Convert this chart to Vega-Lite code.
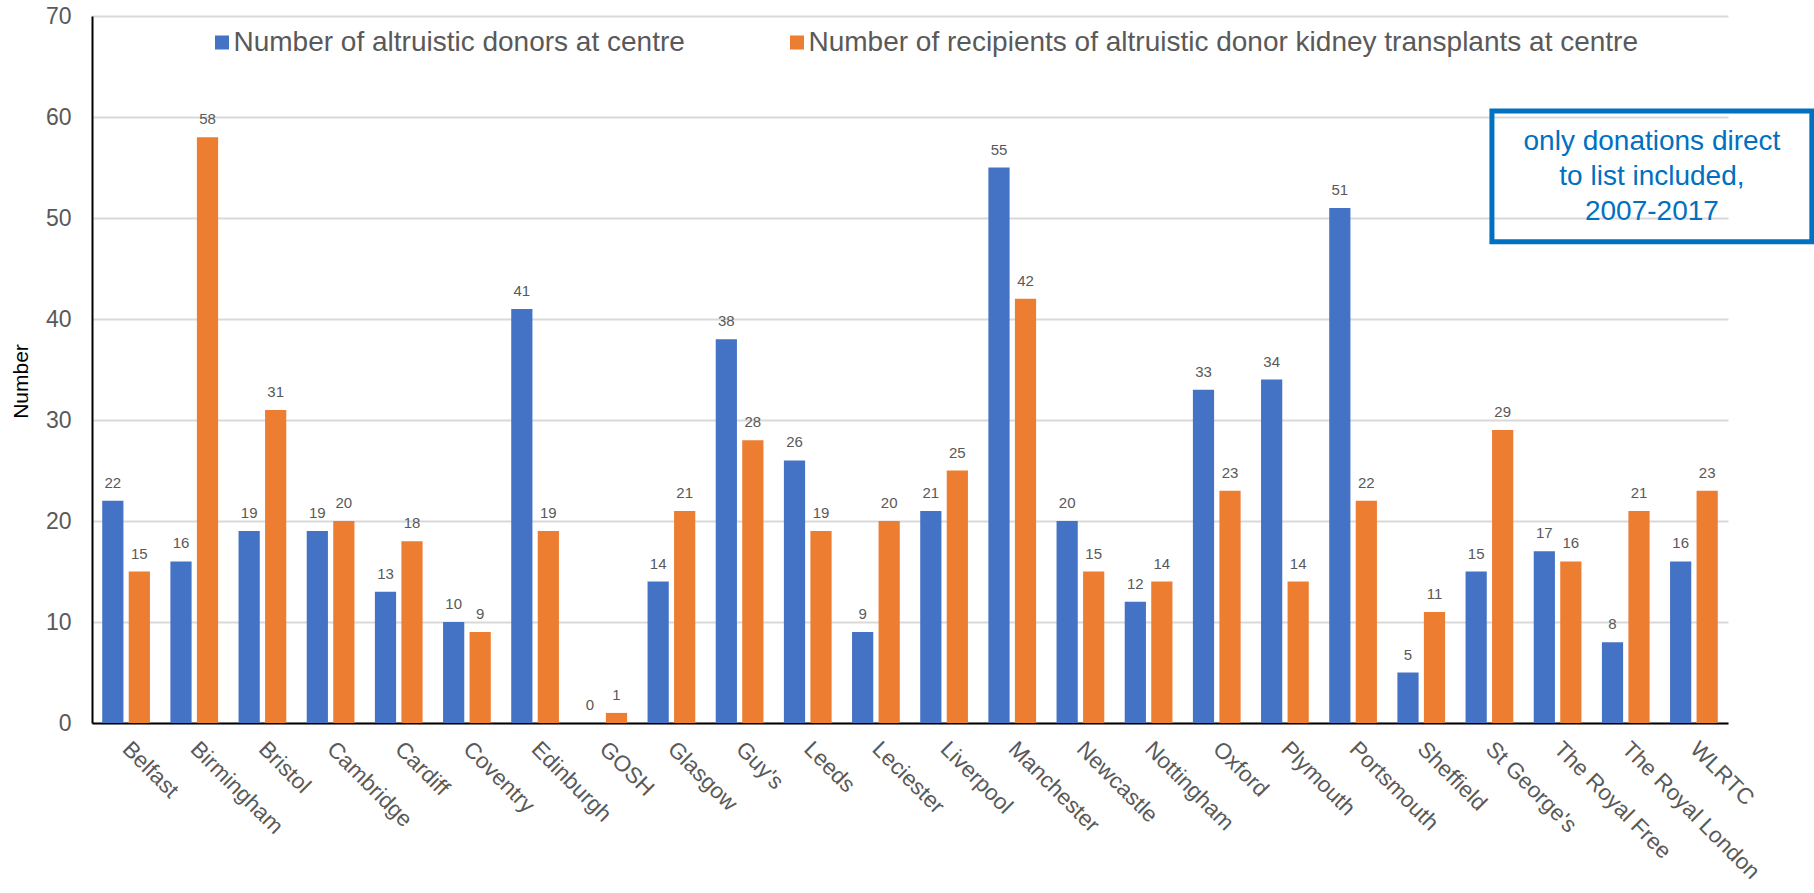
{
  "$schema": "https://vega.github.io/schema/vega-lite/v6.json",
  "width": 1636,
  "height": 707,
  "autosize": {"type": "none"},
  "padding": {"left": 92, "top": 16, "right": 86, "bottom": 170},
  "background": "white",
  "config": {"font": "Liberation Sans", "view": {"stroke": null}},
  "resolve": {"scale": {"x": "independent", "y": "independent"}},
  "layer": [
    {
      "data": {"values": [
        {"centre": "Belfast", "series": "Number of altruistic donors at centre", "value": 22},
        {"centre": "Belfast", "series": "Number of recipients of altruistic donor kidney transplants at centre", "value": 15},
        {"centre": "Birmingham", "series": "Number of altruistic donors at centre", "value": 16},
        {"centre": "Birmingham", "series": "Number of recipients of altruistic donor kidney transplants at centre", "value": 58},
        {"centre": "Bristol", "series": "Number of altruistic donors at centre", "value": 19},
        {"centre": "Bristol", "series": "Number of recipients of altruistic donor kidney transplants at centre", "value": 31},
        {"centre": "Cambridge", "series": "Number of altruistic donors at centre", "value": 19},
        {"centre": "Cambridge", "series": "Number of recipients of altruistic donor kidney transplants at centre", "value": 20},
        {"centre": "Cardiff", "series": "Number of altruistic donors at centre", "value": 13},
        {"centre": "Cardiff", "series": "Number of recipients of altruistic donor kidney transplants at centre", "value": 18},
        {"centre": "Coventry", "series": "Number of altruistic donors at centre", "value": 10},
        {"centre": "Coventry", "series": "Number of recipients of altruistic donor kidney transplants at centre", "value": 9},
        {"centre": "Edinburgh", "series": "Number of altruistic donors at centre", "value": 41},
        {"centre": "Edinburgh", "series": "Number of recipients of altruistic donor kidney transplants at centre", "value": 19},
        {"centre": "GOSH", "series": "Number of altruistic donors at centre", "value": 0},
        {"centre": "GOSH", "series": "Number of recipients of altruistic donor kidney transplants at centre", "value": 1},
        {"centre": "Glasgow", "series": "Number of altruistic donors at centre", "value": 14},
        {"centre": "Glasgow", "series": "Number of recipients of altruistic donor kidney transplants at centre", "value": 21},
        {"centre": "Guy's", "series": "Number of altruistic donors at centre", "value": 38},
        {"centre": "Guy's", "series": "Number of recipients of altruistic donor kidney transplants at centre", "value": 28},
        {"centre": "Leeds", "series": "Number of altruistic donors at centre", "value": 26},
        {"centre": "Leeds", "series": "Number of recipients of altruistic donor kidney transplants at centre", "value": 19},
        {"centre": "Leciester", "series": "Number of altruistic donors at centre", "value": 9},
        {"centre": "Leciester", "series": "Number of recipients of altruistic donor kidney transplants at centre", "value": 20},
        {"centre": "Liverpool", "series": "Number of altruistic donors at centre", "value": 21},
        {"centre": "Liverpool", "series": "Number of recipients of altruistic donor kidney transplants at centre", "value": 25},
        {"centre": "Manchester", "series": "Number of altruistic donors at centre", "value": 55},
        {"centre": "Manchester", "series": "Number of recipients of altruistic donor kidney transplants at centre", "value": 42},
        {"centre": "Newcastle", "series": "Number of altruistic donors at centre", "value": 20},
        {"centre": "Newcastle", "series": "Number of recipients of altruistic donor kidney transplants at centre", "value": 15},
        {"centre": "Nottingham", "series": "Number of altruistic donors at centre", "value": 12},
        {"centre": "Nottingham", "series": "Number of recipients of altruistic donor kidney transplants at centre", "value": 14},
        {"centre": "Oxford", "series": "Number of altruistic donors at centre", "value": 33},
        {"centre": "Oxford", "series": "Number of recipients of altruistic donor kidney transplants at centre", "value": 23},
        {"centre": "Plymouth", "series": "Number of altruistic donors at centre", "value": 34},
        {"centre": "Plymouth", "series": "Number of recipients of altruistic donor kidney transplants at centre", "value": 14},
        {"centre": "Portsmouth", "series": "Number of altruistic donors at centre", "value": 51},
        {"centre": "Portsmouth", "series": "Number of recipients of altruistic donor kidney transplants at centre", "value": 22},
        {"centre": "Sheffield", "series": "Number of altruistic donors at centre", "value": 5},
        {"centre": "Sheffield", "series": "Number of recipients of altruistic donor kidney transplants at centre", "value": 11},
        {"centre": "St George's", "series": "Number of altruistic donors at centre", "value": 15},
        {"centre": "St George's", "series": "Number of recipients of altruistic donor kidney transplants at centre", "value": 29},
        {"centre": "The Royal Free", "series": "Number of altruistic donors at centre", "value": 17},
        {"centre": "The Royal Free", "series": "Number of recipients of altruistic donor kidney transplants at centre", "value": 16},
        {"centre": "The Royal London", "series": "Number of altruistic donors at centre", "value": 8},
        {"centre": "The Royal London", "series": "Number of recipients of altruistic donor kidney transplants at centre", "value": 21},
        {"centre": "WLRTC", "series": "Number of altruistic donors at centre", "value": 16},
        {"centre": "WLRTC", "series": "Number of recipients of altruistic donor kidney transplants at centre", "value": 23}
      ]},
      "encoding": {
        "x": {
          "field": "centre", "type": "nominal", "sort": null,
          "scale": {"paddingInner": 0.3, "paddingOuter": 0.15},
          "axis": {
            "title": null, "labelAngle": 45, "labelAlign": "left", "labelBaseline": "middle",
            "labelFontSize": 22.5, "labelColor": "#595959", "labelPadding": 22, "labelLimit": 500,
            "labelOverlap": false, "ticks": false, "domainColor": "#000000", "domainWidth": 2, "grid": false
          }
        },
        "xOffset": {"field": "series", "type": "nominal", "sort": null, "scale": {"paddingInner": 0.2, "paddingOuter": 0}},
        "y": {
          "field": "value", "type": "quantitative",
          "scale": {"domain": [0, 70], "nice": false},
          "axis": {
            "values": [0, 10, 20, 30, 40, 50, 60, 70],
            "grid": true, "gridColor": "#D9D9D9", "gridWidth": 2,
            "domainColor": "#000000", "domainWidth": 2, "ticks": false,
            "labelFontSize": 23, "labelColor": "#595959", "labelPadding": 21,
            "title": "Number", "titleFontSize": 21, "titleFontWeight": "normal", "titleColor": "#000000",
            "titleY": 365, "titlePadding": 14
          }
        }
      },
      "layer": [
        {
          "mark": {"type": "bar"},
          "encoding": {
            "color": {
              "field": "series", "type": "nominal",
              "scale": {
                "domain": ["Number of altruistic donors at centre", "Number of recipients of altruistic donor kidney transplants at centre"],
                "range": ["#4472C4", "#ED7D31"]
              },
              "legend": {
                "orient": "none", "legendX": 116, "legendY": 12.5, "direction": "horizontal",
                "title": null, "symbolType": "square", "symbolSize": 196, "symbolStrokeWidth": 0,
                "labelFontSize": 28, "labelColor": "#595959", "labelOffset": -2.5,
                "columnPadding": 98, "padding": 0, "labelLimit": 1200
              }
            }
          }
        },
        {
          "mark": {"type": "text", "dy": -13, "baseline": "alphabetic", "fontSize": 15, "color": "#595959"},
          "encoding": {
            "text": {"field": "value", "type": "quantitative"}
          }
        }
      ]
    },
    {
      "data": {"values": [{"note": "box"}]},
      "mark": {"type": "rect", "fillOpacity": 0, "fill": "white", "stroke": "#0070C0", "strokeWidth": 5},
      "encoding": {
        "x": {"datum": 20.537, "type": "quantitative", "scale": {"domain": [0, 24], "nice": false, "zero": false}, "axis": null},
        "x2": {"datum": 25.23},
        "y": {"datum": 60.6, "type": "quantitative", "scale": {"domain": [0, 70], "nice": false}, "axis": null},
        "y2": {"datum": 47.65}
      }
    },
    {
      "data": {"values": [{"note": "only donations direct\nto list included,\n2007-2017"}]},
      "mark": {"type": "text", "lineBreak": "\n", "lineHeight": 35, "fontSize": 28, "color": "#0070C0", "align": "center", "baseline": "middle"},
      "encoding": {
        "x": {"datum": 22.884, "type": "quantitative", "scale": {"domain": [0, 24], "nice": false, "zero": false}, "axis": null},
        "y": {"datum": 57.55, "type": "quantitative", "scale": {"domain": [0, 70], "nice": false}, "axis": null},
        "text": {"field": "note", "type": "nominal"}
      }
    }
  ]
}
